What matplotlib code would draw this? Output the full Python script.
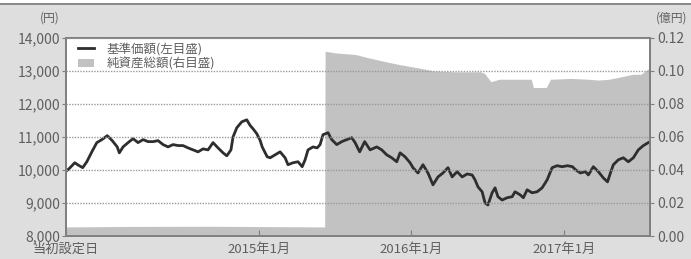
import matplotlib
matplotlib.use("Agg")
import matplotlib.pyplot as plt
from matplotlib.patches import Patch, Rectangle
from matplotlib.ticker import FuncFormatter, MultipleLocator
import pandas as pd

plt.rcParams['font.family'] = ['Noto Sans CJK JP', 'DejaVu Sans']

# 基準価額 (left axis, 円)
nav_dates = [
    "2013-09-24", "2013-10-03", "2013-10-15", "2013-10-22", "2013-11-03", "2013-11-13",
    "2013-11-25", "2013-12-07", "2013-12-19", "2014-01-01", "2014-01-13", "2014-01-25",
    "2014-01-30", "2014-02-08", "2014-02-20", "2014-03-04", "2014-03-16", "2014-03-28",
    "2014-04-09", "2014-04-21", "2014-05-03", "2014-05-15", "2014-05-27", "2014-06-08",
    "2014-06-20", "2014-07-02", "2014-07-14", "2014-07-26", "2014-08-07", "2014-08-19",
    "2014-08-31", "2014-09-12", "2014-09-24", "2014-10-06", "2014-10-15", "2014-10-25",
    "2014-10-30", "2014-11-08", "2014-11-20", "2014-12-02", "2014-12-10", "2014-12-17",
    "2014-12-26", "2015-01-03", "2015-01-08", "2015-01-20", "2015-01-27", "2015-02-08",
    "2015-02-20", "2015-03-04", "2015-03-11", "2015-03-23", "2015-04-04", "2015-04-14",
    "2015-04-21", "2015-04-28", "2015-05-10", "2015-05-20", "2015-05-27", "2015-06-03",
    "2015-06-15", "2015-06-24", "2015-07-06", "2015-07-18", "2015-07-30", "2015-08-11",
    "2015-08-19", "2015-08-30", "2015-09-11", "2015-09-24", "2015-10-10", "2015-10-22",
    "2015-11-03", "2015-11-15", "2015-11-27", "2015-12-05", "2015-12-17", "2015-12-29",
    "2016-01-05", "2016-01-17", "2016-01-29", "2016-02-10", "2016-02-22", "2016-03-05",
    "2016-03-17", "2016-03-29", "2016-04-08", "2016-04-20", "2016-05-02", "2016-05-14",
    "2016-05-26", "2016-06-02", "2016-06-09", "2016-06-19", "2016-06-26", "2016-07-03",
    "2016-07-13", "2016-07-20", "2016-07-27", "2016-08-06", "2016-08-18", "2016-08-30",
    "2016-09-06", "2016-09-18", "2016-09-26", "2016-10-05", "2016-10-17", "2016-10-29",
    "2016-11-10", "2016-11-22", "2016-12-04", "2016-12-16", "2016-12-28", "2017-01-10",
    "2017-01-22", "2017-01-29", "2017-02-10", "2017-02-22", "2017-03-01", "2017-03-13",
    "2017-03-25", "2017-04-06", "2017-04-16", "2017-04-23", "2017-04-30", "2017-05-12",
    "2017-05-24", "2017-06-05", "2017-06-17", "2017-06-29", "2017-07-11", "2017-07-23",
]
nav_values = [
    9960, 10060, 10220, 10160, 10070, 10250,
    10550, 10830, 10920, 11040, 10890, 10700,
    10520, 10700, 10830, 10950, 10830, 10920,
    10860, 10860, 10890, 10770, 10700, 10770,
    10740, 10740, 10670, 10610, 10550, 10640,
    10610, 10830, 10670, 10520, 10430, 10610,
    11000, 11280, 11460, 11520, 11350, 11250,
    11100, 10900, 10700, 10400, 10370, 10460,
    10550, 10370, 10160, 10220, 10250, 10100,
    10310, 10610, 10700, 10670, 10770, 11070,
    11130, 10920, 10770, 10860, 10920, 10980,
    10830, 10550, 10860, 10610, 10700, 10610,
    10460, 10370, 10250, 10520, 10400, 10220,
    10070, 9910, 10160, 9910, 9550, 9790,
    9910, 10070, 9790, 9950, 9790, 9880,
    9850, 9700, 9490, 9340, 9000, 8940,
    9310, 9460, 9190, 9090, 9160, 9190,
    9340, 9250, 9160, 9400, 9310, 9340,
    9460, 9700, 10070, 10130, 10100, 10130,
    10100, 10010, 9910, 9950, 9850, 10100,
    9950, 9760, 9640, 9910, 10160, 10310,
    10370, 10250, 10370, 10610, 10740, 10830,
]

# 純資産総額 (right axis, 億円)
asset_dates = [
    "2013-09-24", "2014-03-01", "2014-09-01", "2015-01-15", "2015-06-07",
    "2015-06-08", "2015-07-02", "2015-08-20", "2015-09-20", "2015-10-25", "2015-12-01",
    "2016-01-15", "2016-02-25", "2016-04-15", "2016-06-15", "2016-06-25",
    "2016-07-10", "2016-07-30", "2016-10-15", "2016-10-20", "2016-11-20",
    "2016-11-30", "2017-01-20", "2017-03-01", "2017-03-25", "2017-04-20",
    "2017-05-10", "2017-06-15", "2017-07-05", "2017-07-27",
]
asset_values = [
    0.0055, 0.0058, 0.0059, 0.0057, 0.0055,
    0.112, 0.111, 0.110, 0.108, 0.106, 0.104,
    0.102, 0.100, 0.0995, 0.0995, 0.0985,
    0.0935, 0.095, 0.095, 0.090, 0.090,
    0.095, 0.0955, 0.095, 0.0945, 0.095,
    0.096, 0.098, 0.098, 0.102,
]

tick_dates = ["2013-09-24", "2015-01-01", "2016-01-01", "2017-01-01"]
tick_labels = ["当初設定日", "2015年1月", "2016年1月", "2017年1月"]

nav_x = pd.to_datetime(nav_dates)
asset_x = pd.to_datetime(asset_dates)

text_color = "#5f5f5f"
spine_color = "#808080"
fill_color = "#c2c2c2"

fig = plt.figure(figsize=(6.91, 2.59), dpi=100, facecolor="#dedede")
ax = fig.add_axes([66/691, 1-236/259, (650-66)/691, (236-38)/259])
ax2 = ax.twinx()
ax.set_zorder(ax2.get_zorder() + 1)
ax.patch.set_visible(False)
ax2.patch.set_facecolor("white")
ax2.patch.set_visible(True)

ax2.fill_between(asset_x, 0, asset_values, color=fill_color, linewidth=0)
ax2.set_ylim(0, 0.12)
ax2.yaxis.set_major_locator(MultipleLocator(0.02))
ax2.yaxis.set_major_formatter(FuncFormatter(lambda v, p: f"{v:.2f}"))

line, = ax.plot(nav_x, nav_values, color="#2e2e2e", linewidth=2.0)
ax.set_ylim(8000, 14000)
ax.yaxis.set_major_locator(MultipleLocator(1000))
ax.yaxis.set_major_formatter(FuncFormatter(lambda v, p: f"{int(v):,}"))
ax.grid(axis="y", color="#9a9a9a", linestyle=(0, (1, 1)), linewidth=1.0)
ax.set_axisbelow(False)

ax.set_xlim(pd.Timestamp("2013-09-24"), pd.Timestamp("2017-07-27"))
ax.set_xticks(pd.to_datetime(tick_dates))
ax.set_xticklabels(tick_labels)

for a in (ax, ax2):
    for s in a.spines.values():
        s.set_color(spine_color)
        s.set_linewidth(1.3)
ax.tick_params(axis="x", direction="in", length=4, color=spine_color,
               labelsize=9.5, labelcolor=text_color, pad=5)
ax.tick_params(axis="y", direction="out", length=3, color=spine_color,
               labelsize=10, labelcolor=text_color, pad=1)
ax2.tick_params(axis="y", direction="out", length=3, color=spine_color,
                labelsize=10, labelcolor=text_color, pad=2)

handles = [line, Patch(facecolor=fill_color, edgecolor="none")]
labels = ["基準価額(左目盛)", "純資産総額(右目盛)"]
ax.legend(handles, labels, loc="upper left", frameon=False, fontsize=9,
          labelcolor=text_color, handlelength=1.3, handletextpad=1.0,
          borderaxespad=0.1, labelspacing=0.15, bbox_to_anchor=(0.01, 1.01))

fig.text(50/691, 1-18/259, "(円)", ha="center", va="center", fontsize=8.5, color=text_color)
fig.text(672/691, 1-18/259, "(億円)", ha="center", va="center", fontsize=8.5, color=text_color)

# top border band
fig.patches.append(Rectangle((0, 1-3/259), 1, 3/259, transform=fig.transFigure,
                             facecolor="white", edgecolor="none"))
fig.patches.append(Rectangle((0, 1-5/259), 1, 2/259, transform=fig.transFigure,
                             facecolor="#8a8a8a", edgecolor="none"))

fig.savefig("out.png", dpi=100, facecolor=fig.get_facecolor())
